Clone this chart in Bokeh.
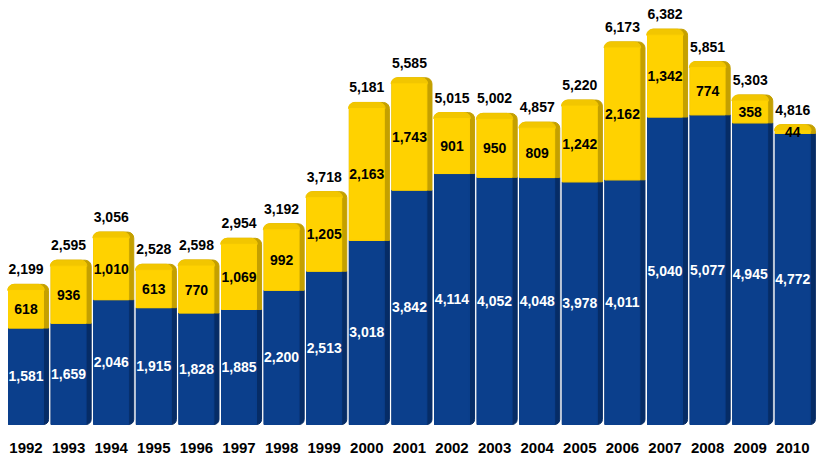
from bokeh.plotting import figure
from bokeh.models import ColumnDataSource, Range1d
from bokeh.core.properties import value
from bokeh.embed import file_html
from bokeh.resources import INLINE

years = ["1992", "1993", "1994", "1995", "1996", "1997", "1998", "1999", "2000", "2001",
         "2002", "2003", "2004", "2005", "2006", "2007", "2008", "2009", "2010"]
blue_vals = [1581, 1659, 2046, 1915, 1828, 1885, 2200, 2513, 3018, 3842,
             4114, 4052, 4048, 3978, 4011, 5040, 5077, 4945, 4772]
yellow_vals = [618, 936, 1010, 613, 770, 1069, 992, 1205, 2163, 1743,
               901, 950, 809, 1242, 2162, 1342, 774, 358, 44]
totals = [2199, 2595, 3056, 2528, 2598, 2954, 3192, 3718, 5181, 5585,
          5015, 5002, 4857, 5220, 6173, 6382, 5851, 5303, 4816]

FONT = value("Liberation Sans")
BLUE = "#0B3F8C"
BLUE_SIDE = "#062C66"
YEL = "#FFD200"
YEL_SIDE = "#C4A000"
YEL_CAP = "#F2C600"

idx = list(range(len(years)))
px = 0.061  # pixels per unit
cap = 6 / px
src = ColumnDataSource(dict(
    x=idx,
    xs=[i + 0.06 for i in idx],
    blue=blue_vals,
    yellow=yellow_vals,
    total=totals,
    captop=[t + cap for t in totals],
    ymid=[b / 2 for b in blue_vals],
    yelmid=[b + y / 2 for b, y in zip(blue_vals, yellow_vals)],
    blue_lbl=[f"{v:,}" for v in blue_vals],
    yel_lbl=[f"{v:,}" for v in yellow_vals],
    tot_lbl=[f"{v:,}" for v in totals],
    year=years,
    zero=[0] * len(years),
))

W, H = 818, 459
zero_px = 424
pitch = 42.6
x0 = 25.5
p = figure(width=W, height=H, output_backend="svg", toolbar_location=None,
           x_range=Range1d(-x0 / pitch, (W - x0) / pitch),
           y_range=Range1d(-(H - zero_px) / px, zero_px / px),
           min_border=0, outline_line_color=None)
p.axis.visible = False
p.grid.visible = False
p.background_fill_color = "white"

# blue side + front
p.vbar(x="xs", width=0.94, bottom="zero", top="blue", source=src, color=BLUE_SIDE,
       border_radius=(0, 0, 5, 0))
p.vbar(x="x", width=0.82, bottom="zero", top="blue", source=src, color=BLUE)
# yellow side + cap + front
p.vbar(x="xs", width=0.94, bottom="blue", top="captop", source=src, color=YEL_SIDE,
       border_radius=(6, 6, 0, 0))
p.vbar(x="x", width=0.86, bottom="total", top="captop", source=src, color=YEL_CAP,
       border_radius=(6, 6, 0, 0))
p.vbar(x="x", width=0.82, bottom="blue", top="total", source=src, color=YEL)

common = dict(source=src, text_font=FONT, text_font_style="bold",
              text_align="center", text_baseline="middle")
p.text(x="x", y="ymid", text="blue_lbl", text_color="white", text_font_size="14px", **common)
p.text(x="x", y="yelmid", text="yel_lbl", text_color="black", text_font_size="14px", **common)
p.text(x="x", y="total", text="tot_lbl", text_color="black", text_font_size="14px",
       y_offset=-21, **common)
p.text(x="x", y="zero", text="year", text_color="black", text_font_size="15px",
       y_offset=23, **common)

open("out.html", "w").write(file_html(p, INLINE))
